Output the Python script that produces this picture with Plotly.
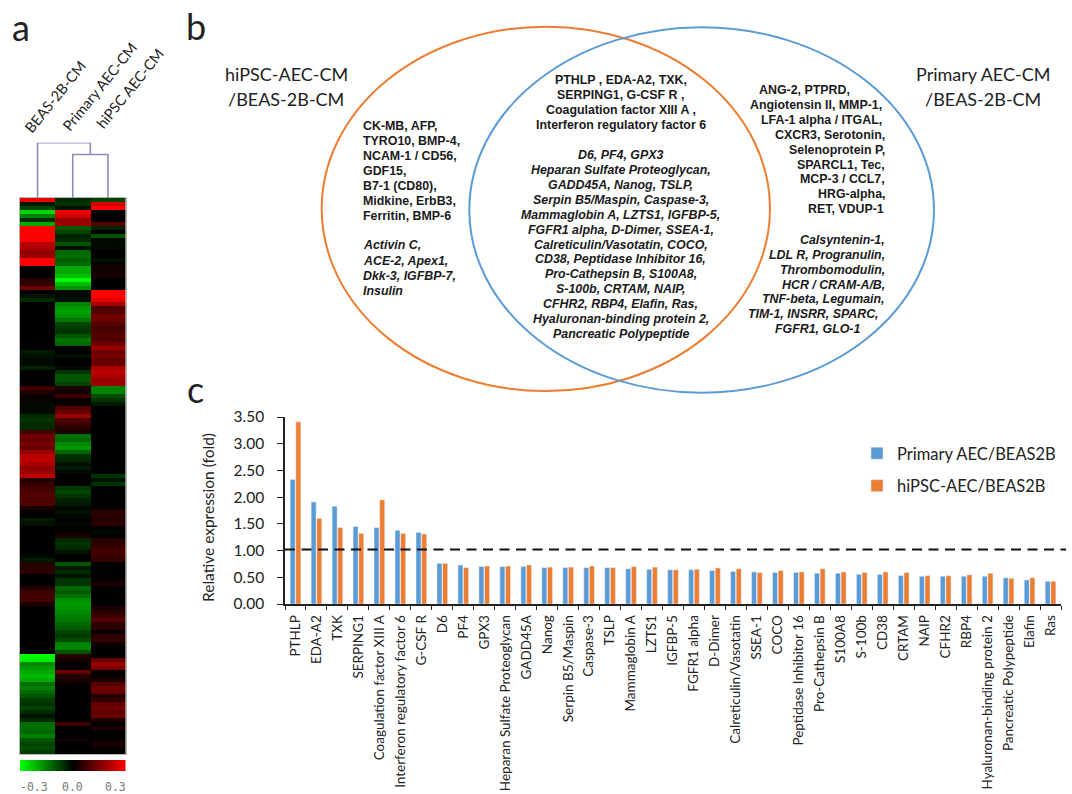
import plotly.graph_objects as go

W, H = 1072, 794

# ---------- panel c data ----------
categories = ["PTHLP", "EDA-A2", "TXK", "SERPING1", "Coagulation factor XIII A",
              "Interferon regulatory factor 6", "G-CSF R", "D6", "PF4", "GPX3",
              "Heparan Sulfate Proteoglycan", "GADD45A", "Nanog", "Serpin B5/Maspin",
              "Caspase-3", "TSLP", "Mammaglobin A", "LZTS1", "IGFBP-5", "FGFR1 alpha",
              "D-Dimer", "Calreticulin/Vasotatin", "SSEA-1", "COCO", "Peptidase Inhibitor 16",
              "Pro-Cathepsin B", "S100A8", "S-100b", "CD38", "CRTAM", "NAIP", "CFHR2",
              "RBP4", "Hyaluronan-binding protein 2", "Pancreatic Polypeptide", "Elafin", "Ras"]
primary_vals = [2.33, 1.91, 1.83, 1.45, 1.43, 1.38, 1.34, .76, .73, .70, .70, .70, .68, .68, .68, .68, .66,
                .65, .64, .64, .625, .61, .60, .59, .59, .575, .575, .555, .555, .53, .52, .52, .52, .52,
                .49, .45, .425]
hipsc_vals = [3.41, 1.60, 1.43, 1.32, 1.95, 1.32, 1.31, .76, .68, .71, .71, .73, .69, .69, .71, .68, .70,
              .69, .64, .65, .675, .66, .59, .625, .60, .66, .60, .59, .60, .59, .53, .53, .545, .575,
              .48, .49, .425]
y_ticks = [0, 0.5, 1, 1.5, 2, 2.5, 3, 3.5]
threshold = 1.02

# ---------- panel a data ----------
heat_columns = ["BEAS-2B-CM", "Primary AEC-CM", "hiPSC AEC-CM"]
beas = [.28, -.03, -.08, -.25, -.15, -.05, -.2, .3, .3, .3, .3, .22, .2, .17, .18, .3, .3, 0, 0, 0,
        .05, .06, .13, 0, -.02, -.05, 0, 0, 0, 0, 0, 0, 0, 0, 0, 0, 0, 0, -.03, -.02,
        -.01, -.01, -.04, 0, 0, 0, 0, .08, .04, .01, .01, -.01, -.01, -.01, -.05, -.06, -.05, -.05, .08, .13,
        .12, .14, .12, .18, .22, .22, .2, .17, .18, .22, .04, .06, .08, .09, .1, .09, .1, .03, 0, 0,
        -.03, -.02, 0, 0, 0, 0, 0, 0, 0, -.01, -.03, .04, .05, .05, 0, 0, 0, .04, .07, .07,
        .08, .03, 0, 0, 0, 0, 0, 0, 0, 0, 0, 0, 0, 0, -.3, -.28, -.16, -.18, -.2, -.22,
        -.2, -.13, -.15, -.12, -.1, -.07, -.06, -.08, -.05, -.02, -.05, -.13, -.13, -.12, -.15, -.1, -.08, -.09, -.07]
primary = [-.05, -.06, -.02, .28, .25, .18, .18, -.1, -.08, -.04, -.05, -.1, -.02, -.12, -.13, -.11, -.12, -.2, -.2, -.22,
           -.3, -.22, -.17, -.01, -.01, -.02, -.15, -.18, -.19, -.17, -.14, -.08, -.07, -.06, -.1, -.14, -.12, 0, 0, -.02,
           0, 0, -.01, -.06, -.1, -.1, -.08, .03, .02, .07, .01, .01, .1, .12, .18, .09, .07, .05, .03, -.13,
           -.12, -.16, -.18, -.12, -.06, -.05, -.02, -.03, -.01, 0, 0, 0, -.07, -.08, -.06, -.04, -.03, -.01, -.02, -.01,
           0, -.01, 0, .01, .03, -.05, -.06, -.05, -.02, 0, 0, -.1, -.03, -.05, -.02, -.06, -.06, -.12, -.11, -.13,
           -.17, -.18, -.17, -.16, -.15, -.14, -.12, -.11, -.08, -.07, -.09, -.15, -.16, -.1, .05, .02, 0, .01, .12, .04,
           .03, .01, 0, 0, 0, 0, 0, 0, 0, 0, 0, .07, 0, 0, 0, .01, 0, 0, 0]
hipsc = [-.08, .25, .3, 0, 0, 0, .1, -.04, 0, -.1, -.01, -.01, -.01, 0, 0, -.02, .01, .02, .02, .03,
         0, 0, 0, .29, .3, .27, .2, .09, .1, .13, .13, .1, .08, .09, .1, .1, .13, .18, .13, .14,
         .12, .12, .2, .22, .2, .18, .18, -.15, -.15, -.09, -.06, -.03, 0, 0, 0, 0, 0, 0, 0, 0,
         0, 0, 0, 0, 0, 0, 0, 0, 0, -.06, -.02, -.06, 0, 0, 0, 0, 0, .01, .05, .05,
         .04, .05, 0, -.01, 0, .05, .05, .07, .08, .07, .06, 0, 0, 0, 0, .01, .03, 0, 0, 0,
         0, 0, .03, .05, .07, .1, .05, .05, .01, .05, .06, .02, 0, 0, 0, .12, .18, .15, 0, .01,
         .03, .1, .13, .12, .04, .06, .12, .13, .11, .13, .03, 0, .03, 0, 0, .01, .03, .01, 0]
scale_vals = [-.3, -.25, -.2, -.15, -.1, -.05, 0, .05, .1, .15, .2, .25, .3]
scale_labels = ["-0.3", "0.0", "0.3"]
dendro_x1, dendro_y1 = [1, 1, 2, 2], [0, .786, .786, 0]
dendro_x2, dendro_y2 = [0, 0, 1.5, 1.5], [0, 1, 1, .786]

# ---------- panel b text ----------
left_bold = ["CK-MB, AFP,", "TYRO10, BMP-4,", "NCAM-1 / CD56,", "GDF15,", "B7-1 (CD80),", "Midkine, ErbB3,", "Ferritin, BMP-6"]
left_ital = ["Activin C,", "ACE-2, Apex1,", "Dkk-3, IGFBP-7,", "Insulin"]
mid_bold = ["PTHLP , EDA-A2, TXK,", "SERPING1, G-CSF R ,", "Coagulation factor XIII A ,", "Interferon regulatory factor 6"]
mid_ital = ["D6, PF4, GPX3", "Heparan Sulfate Proteoglycan,", "GADD45A, Nanog, TSLP,",
            "Serpin B5/Maspin, Caspase-3,", "Mammaglobin A, LZTS1, IGFBP-5,", "FGFR1 alpha, D-Dimer, SSEA-1,",
            "Calreticulin/Vasotatin, COCO,", "CD38, Peptidase Inhibitor 16,", "Pro-Cathepsin B, S100A8,",
            "S-100b, CRTAM, NAIP,", "CFHR2, RBP4, Elafin, Ras,", "Hyaluronan-binding protein 2,", "Pancreatic Polypeptide"]
right_bold = ["ANG-2, PTPRD,", "Angiotensin II, MMP-1,", "LFA-1 alpha / ITGAL,", "CXCR3, Serotonin,", "Selenoprotein P,",
              "SPARCL1, Tec,", "MCP-3 / CCL7,", "HRG-alpha,", "RET, VDUP-1"]
right_bold_end = [850, 881.5, 881.5, 885, 885, 885, 885, 885, 884]
right_ital = ["Calsyntenin-1,", "LDL R, Progranulin,", "Thrombomodulin,", "HCR / CRAM-A/B,", "TNF-beta, Legumain,",
              "TIM-1, INSRR, SPARC,", "FGFR1, GLO-1"]
right_ital_end = [885, 885, 885, 885, 885, 879, 860]


def fx(p):
    return p / W


def fy(p):
    return 1 - p / H


fig = go.Figure()

# panel c: bars
fig.add_trace(go.Bar(name="Primary AEC/BEAS2B", x=categories, y=primary_vals, marker_color="#5B9BD5",
                     xaxis="x", yaxis="y", legendgroup="p"))
fig.add_trace(go.Bar(name="hiPSC-AEC/BEAS2B", x=categories, y=hipsc_vals, marker_color="#ED7D31",
                     xaxis="x", yaxis="y", legendgroup="h"))

# panel a: heatmap
heat_rows = [list(r) for r in zip(beas, primary, hipsc)]
cs = [[0, "#00ff00"], [.5, "#000000"], [1, "#ff0000"]]
fig.add_trace(go.Heatmap(z=heat_rows, x=[0, 1, 2], y=list(range(len(heat_rows))), colorscale=cs, zmin=-.3, zmax=.3,
                         showscale=False, xaxis="x2", yaxis="y2"))
fig.add_trace(go.Heatmap(z=[scale_vals], x=scale_vals, y=[0], colorscale=cs, zmin=-.3, zmax=.3, zsmooth="best",
                         showscale=False, xaxis="x3", yaxis="y3"))
for dx, dy in [(dendro_x1, dendro_y1), (dendro_x2, dendro_y2)]:
    fig.add_trace(go.Scatter(x=dx, y=dy, mode="lines", line=dict(color="#8d8db8", width=1.6), showlegend=False,
                             xaxis="x4", yaxis="y4", hoverinfo="skip"))

hidden = dict(showgrid=False, zeroline=False, showticklabels=False, ticks="")
layout = dict(
    width=W, height=H, margin=dict(l=0, r=0, t=0, b=0), paper_bgcolor="white", plot_bgcolor="white",
    autosize=False, barmode="group", bargap=0.46, bargroupgap=0.12,
    font=dict(family="Lato", color="#222222"),
    showlegend=True,
    legend=dict(x=fx(857), y=fy(436), xanchor="left", yanchor="top", font=dict(family="Lato", size=16.5, color="#222222"),
                tracegroupgap=8, bgcolor="rgba(0,0,0,0)", itemclick=False),
    xaxis=dict(domain=[fx(285), fx(1061)], tickangle=-90, tickson="boundaries", ticks="outside", ticklen=4,
               tickcolor="#222222", showline=True, linecolor="#222222", linewidth=1.5, showgrid=False,
               tickfont=dict(family="Lato", size=13.5, color="#222222"), anchor="y", automargin=False,
               categoryorder="array", categoryarray=categories, ticklabelstandoff=4),
    yaxis=dict(domain=[fy(604), fy(417)], range=[0, 3.5], tickvals=y_ticks, tickformat=".2f", ticks="outside", ticklen=6,
               tickcolor="#222222", showline=True, linecolor="#222222", linewidth=1.5, showgrid=False, zeroline=False,
               tickfont=dict(family="Lato", size=15.5, color="#222222"), anchor="x", automargin=False,
               ticklabelstandoff=10),
    xaxis2=dict(domain=[fx(20), fx(125.5)], range=[-.5, 2.5], anchor="y2", showline=True, mirror=True,
                linecolor="#b5b5b5", linewidth=1, **hidden),
    yaxis2=dict(domain=[fy(754), fy(198)], range=[138.5, -.5], anchor="x2", showline=True, mirror=True,
                linecolor="#b5b5b5", linewidth=1, **hidden),
    xaxis3=dict(domain=[fx(20), fx(125.5)], range=[-.3, .3], anchor="y3", **hidden),
    yaxis3=dict(domain=[fy(771), fy(760)], range=[-.5, .5], anchor="x3", **hidden),
    xaxis4=dict(domain=[fx(20), fx(125.5)], range=[-.5, 2.5], anchor="y4", **hidden),
    yaxis4=dict(domain=[fy(198), fy(142.7)], range=[0, 1], anchor="x4", **hidden),
)
fig.update_layout(**layout)

ann = []


def text(s, x, y, size, anchor="center", family="Lato", color="#222222", angle=0):
    ann.append(dict(text=s, x=fx(x), y=fy(y), xref="paper", yref="paper", xanchor=anchor, yanchor="middle",
                    showarrow=False, textangle=angle, borderpad=0, font=dict(family=family, size=size, color=color)))


def block(lines, x, y0, dy, anchor, italic, ends=None):
    for i, s in enumerate(lines):
        s2 = f"<b><i>{s}</i></b>" if italic else f"<b>{s}</b>"
        text(s2, ends[i] if ends else x, y0 + i * dy, 12.4, anchor, "Liberation Sans", "#1a1a1a")


block(left_bold, 361.7, 126, 15, "left", False)
block(left_ital, 361.7, 245.5, 15, "left", True)
block(mid_bold, 620.5, 80, 15, "center", False)
block(mid_ital, 620.5, 155, 14.92, "center", True)
block(right_bold, None, 90, 14.9, "right", False, [e + 1 for e in right_bold_end])
block(right_ital, None, 240, 14.85, "right", True, [e + 1 for e in right_ital_end])

text("hiPSC-AEC-CM", 286, 74, 18)
text("/BEAS-2B-CM", 286, 99, 18)
text("Primary AEC-CM", 982.5, 74, 18)
text("/BEAS-2B-CM", 982.5, 99, 18)
text("a", 21, 27, 36)
text("b", 196, 26, 36)
text("c", 195, 389, 36)
text("Relative expression (fold)", 208, 518, 15.5, angle=-90)
text(heat_columns[0], 55.5, 97, 14.5, angle=-51)
text(heat_columns[1], 100, 87, 14.5, angle=-51)
text(heat_columns[2], 130, 89, 14.5, angle=-51)
text(scale_labels[0], 33.5, 787, 11.5, family="DejaVu Sans Mono", color="#777777")
text(scale_labels[1], 72, 787, 11.5, family="DejaVu Sans Mono", color="#777777")
text(scale_labels[2], 115, 787, 11.5, family="DejaVu Sans Mono", color="#777777")

shapes = [
    dict(type="circle", xref="paper", yref="paper", x0=fx(321.7), x1=fx(770), y0=fy(391), y1=fy(26.7),
         line=dict(color="#ED7D31", width=2)),
    dict(type="circle", xref="paper", yref="paper", x0=fx(469.3), x1=fx(934), y0=fy(392.7), y1=fy(27.3),
         line=dict(color="#5B9BD5", width=2)),
    dict(type="line", xref="paper", yref="y", x0=fx(285), x1=fx(1066), y0=threshold, y1=threshold,
         line=dict(color="#111111", width=2, dash="10px,6.5px")),
]
fig.update_layout(annotations=ann, shapes=shapes)

fig.write_html("out.html", config=dict(displayModeBar=False),
               post_script="document.body.style.margin='0';document.documentElement.style.overflow='hidden';")
